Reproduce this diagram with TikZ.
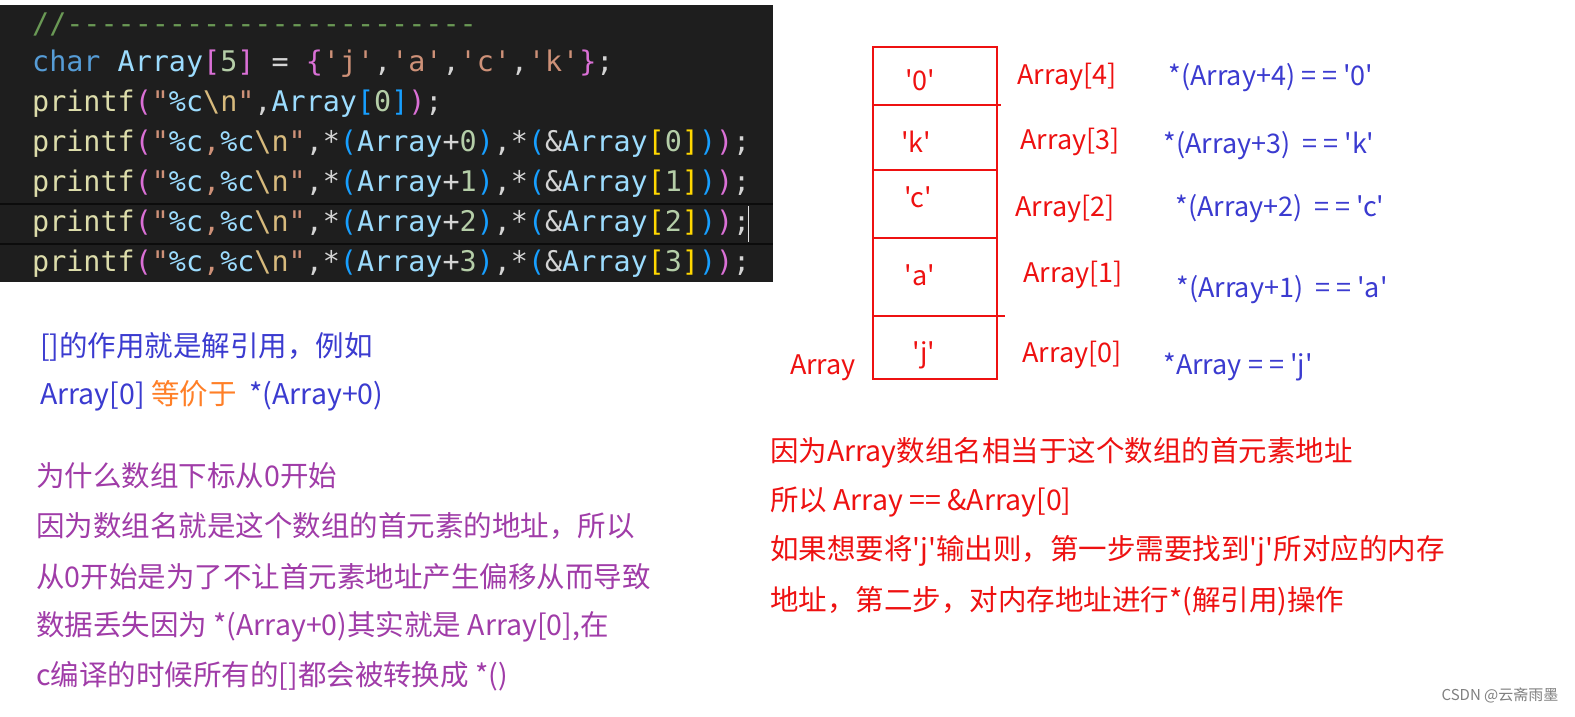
\documentclass[tikz,border=0pt]{standalone}
\usepackage{fontspec}
\newfontfamily\cjkfont{Noto Sans CJK SC}
\newfontfamily\codefont{DejaVu Sans Mono}
\definecolor{cbg}{HTML}{1E1E1E}
\definecolor{ccom}{HTML}{6A9955}
\definecolor{ckw}{HTML}{569CD6}
\definecolor{cvar}{HTML}{9CDCFE}
\definecolor{cfn}{HTML}{DCDCAA}
\definecolor{cstr}{HTML}{CE9178}
\definecolor{cnum}{HTML}{B5CEA8}
\definecolor{cesc}{HTML}{D7BA7D}
\definecolor{cp1}{HTML}{DA70D6}
\definecolor{cp2}{HTML}{179FFF}
\definecolor{cp3}{HTML}{FFD700}
\definecolor{cwh}{HTML}{D4D4D4}
\definecolor{myred}{HTML}{EE1111}
\definecolor{myblue}{HTML}{3B3BD0}
\definecolor{mypurp}{HTML}{A03CA8}
\definecolor{myorange}{HTML}{FF7F27}
\newcommand\cc[2]{\textcolor{#1}{#2}}
\newcommand\pline[1]{\cc{cfn}{printf}\cc{cp1}{(}\cc{cstr}{"}\cc{cvar}{\%c}\cc{cstr}{,}\cc{cvar}{\%c}\cc{cesc}{\textbackslash n}\cc{cstr}{"}\cc{cwh}{,*}\cc{cp2}{(}\cc{cvar}{Array}\cc{cwh}{+}\cc{cnum}{#1}\cc{cp2}{)}\cc{cwh}{,*}\cc{cp2}{(}\cc{cwh}{\&}\cc{cvar}{Array}\cc{cp3}{[}\cc{cnum}{#1}\cc{cp3}{]}\cc{cp2}{)}\cc{cp1}{)}\cc{cwh}{;}}
\tikzset{code/.style={anchor=west,inner sep=0pt,font=\codefont\fontsize{28.4}{28}\selectfont},
 rtxt/.style={anchor=center,inner sep=0pt,text=myred,font=\cjkfont\fontsize{27}{27}\selectfont},
 btxt/.style={anchor=center,inner sep=0pt,text=myblue,font=\cjkfont\fontsize{27}{27}\selectfont},
 ltxt/.style={anchor=west,inner sep=0pt,font=\cjkfont\fontsize{28.5}{27}\selectfont}}
\begin{document}
\begin{tikzpicture}[x=1pt,y=-1pt]
\useasboundingbox (0,0) rectangle (1575,717);
\fill[white] (0,0) rectangle (1575,717);
\fill[cbg] (0,5) rectangle (773,282);
\fill[black!60!cbg] (0,203) rectangle (773,205);
\fill[black!60!cbg] (0,243) rectangle (773,245);
\draw[cwh!70] (748,206) -- (748,242);
\node[code] (c1) at (32,24) {\cc{ccom}{//------------------------}};
\node[code] (c2) at (32,64) {\cc{ckw}{char} \cc{cvar}{Array}\cc{cp1}{[}\cc{cnum}{5}\cc{cp1}{]} \cc{cwh}{=} \cc{cp1}{\{}\cc{cstr}{'j'}\cc{cwh}{,}\cc{cstr}{'a'}\cc{cwh}{,}\cc{cstr}{'c'}\cc{cwh}{,}\cc{cstr}{'k'}\cc{cp1}{\}}\cc{cwh}{;}};
\node[code] (c3) at (32,104) {\cc{cfn}{printf}\cc{cp1}{(}\cc{cstr}{"}\cc{cvar}{\%c}\cc{cesc}{\textbackslash n}\cc{cstr}{"}\cc{cwh}{,}\cc{cvar}{Array}\cc{cp2}{[}\cc{cnum}{0}\cc{cp2}{]}\cc{cp1}{)}\cc{cwh}{;}};
\node[code] (c4) at (32,144) {\pline{0}};
\node[code] (c5) at (32,184) {\pline{1}};
\node[code] (c6) at (32,224) {\pline{2}};
\node[code] (c7) at (32,264) {\pline{3}};
% array box
\draw[myred,line width=2pt] (873,47) rectangle (997,379);
\draw[myred,line width=2pt] (873,105) -- (1001,105);
\draw[myred,line width=2pt] (873,170) -- (997,170);
\draw[myred,line width=2pt] (873,238) -- (997,238);
\draw[myred,line width=2pt] (873,316) -- (1005,316);
\node[rtxt] (e4) at (920,80) {'0'};
\node[rtxt] (e3) at (916,142) {'k'};
\node[rtxt] (e2) at (918,197) {'c'};
\node[rtxt] (e1) at (920,275) {'a'};
\node[rtxt] (e0) at (924,355) {'j'};
\node[rtxt] (a4) at (1067,77) {Array[4]};
\node[rtxt] (a3) at (1070,142) {Array[3]};
\node[rtxt] (a2) at (1065,209) {Array[2]};
\node[rtxt] (a1) at (1073,275) {Array[1]};
\node[rtxt] (a0) at (1072,355) {Array[0]};
\node[rtxt] (an) at (823,368) {Array};
\node[btxt] (b4) at (1271,78) {*(Array+4) = = '0'};
\node[btxt] (b3) at (1269,146) {*(Array+3)\ \ = = 'k'};
\node[btxt] (b2) at (1280,209) {*(Array+2)\ \ = = 'c'};
\node[btxt] (b1) at (1282,290) {*(Array+1)\ \ = = 'a'};
\node[btxt] (b0) at (1238,367) {*Array = = 'j'};
% left texts
\node[ltxt,text=myblue] (l1) at (40,347) {[]的作用就是解引用，例如};
\node[ltxt,text=myblue] (l2) at (40,396) {Array[0] \textcolor{myorange}{等价于}\ \ *(Array+0)};
\node[ltxt,text=mypurp] (p1) at (36,476) {为什么数组下标从0开始};
\node[ltxt,text=mypurp] (p2) at (36,526) {因为数组名就是这个数组的首元素的地址，所以};
\node[ltxt,text=mypurp] (p3) at (36,577) {从0开始是为了不让首元素地址产生偏移从而导致};
\node[ltxt,text=mypurp] (p4) at (36,627) {数据丢失因为 *(Array+0)其实就是 Array[0],在};
\node[ltxt,text=mypurp] (p5) at (36,676) {c编译的时候所有的[]都会被转换成 *()};
% right texts
\node[ltxt,text=myred] (r1) at (770,453) {因为Array数组名相当于这个数组的首元素地址};
\node[ltxt,text=myred] (r2) at (770,502) {所以 Array == \&Array[0]};
\node[ltxt,text=myred] (r3) at (770,551) {如果想要将'j'输出则，第一步需要找到'j'所对应的内存};
\node[ltxt,text=myred] (r4) at (770,601) {地址，第二步，对内存地址进行*(解引用)操作};
\node[anchor=center,inner sep=0pt,text=gray,font=\cjkfont\fontsize{15}{15}\selectfont] (wm) at (1500,695) {CSDN @云斋雨墨};
\end{tikzpicture}
\end{document}
